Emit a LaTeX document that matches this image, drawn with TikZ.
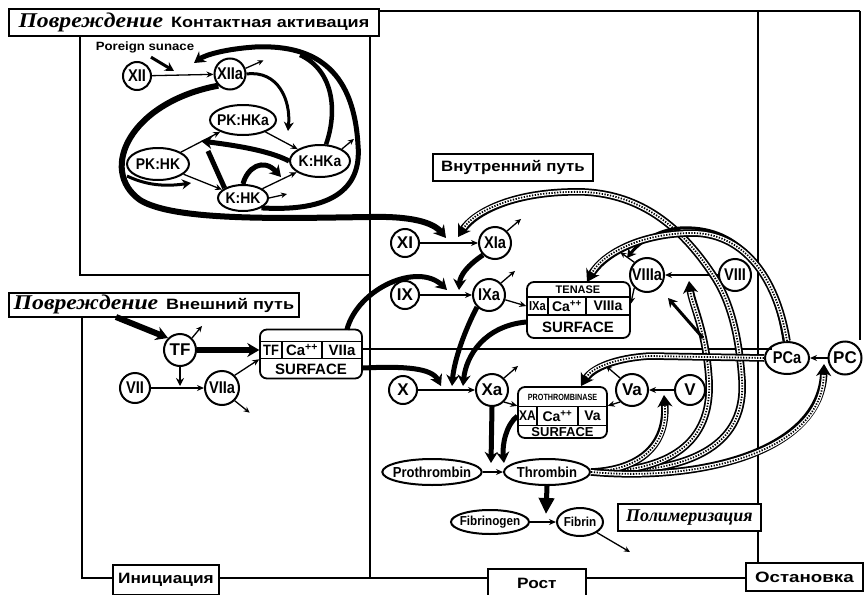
\documentclass[tikz,border=0pt]{standalone}
\usepackage{fontspec}
\usepackage{graphicx}
\setmainfont{Liberation Sans}
\newfontfamily\tmsfont{Liberation Serif}
\usetikzlibrary{arrows.meta,shapes.geometric,calc}
\pgfdeclarelayer{bg}
\pgfsetlayers{bg,main}
\newcommand{\bigitx}[1]{\scalebox{1.13}[1]{\tmsfont\bfseries\itshape\fontsize{21}{21}\selectfont #1}}
\newcommand{\wsans}[2]{\scalebox{#1}[1]{\bfseries\fontsize{15}{15}\selectfont #2}}
\newcommand{\pp}{\textsuperscript{++}}
\newcommand{\cnd}[1]{\scalebox{0.86}[1]{#1}}
\newcommand{\cne}[1]{\scalebox{0.9}[1]{#1}}
\begin{document}
\begin{tikzpicture}[x=1pt,y=-1pt,
  fr/.style={line width=2pt},
  tbox/.style={draw, line width=1.8pt, fill=white, inner sep=0pt, anchor=north west},
  nd/.style={circle, draw, line width=2pt, fill=white, inner sep=0pt, font=\bfseries\fontsize{17}{17}\selectfont},
  el/.style={ellipse, draw, line width=2pt, fill=white, inner sep=-4pt, font=\bfseries\fontsize{15.5}{15.5}\selectfont},
  cbox/.style={draw, line width=1.8pt, rounded corners=7pt, fill=white, inner sep=0pt},
  cell/.style={draw, line width=1.4pt, inner sep=0pt},
  thn/.style={line width=1.3pt, -{Stealth[length=7pt,width=6pt]}},
  dec/.style={line width=1.3pt, -{Stealth[length=6pt,width=5.5pt]}},
  med/.style={line width=3pt, -{Stealth[length=9pt,width=10pt]}},
  thk/.style={line width=5pt, -{Stealth[length=11pt,width=13pt]}},
  wedge/.style={line width=6pt, -{Stealth[length=12pt,width=14pt]}},
  band/.style={line width=7.5pt, -{Stealth[length=12pt,width=15pt]},
    postaction={draw=white, line width=4pt, -, shorten >=11pt},
    postaction={draw=black, line width=1.8pt, -, dash pattern=on 1.3pt off 1.5pt, shorten >=11pt}}
]
\useasboundingbox (0,0) rectangle (864,594);

% ---------- frame lines ----------
\begin{pgfonlayer}{bg}
\draw[fr] (378,11) -- (860,11);
\draw[fr] (860,11) -- (860,340);
\draw[fr] (758,11) -- (758,562);
\draw[fr] (370,11) -- (370,578);
\draw[fr] (80,35) -- (80,275) -- (370,275);
\draw[fr] (82,316) -- (82,578) -- (745,578);
\end{pgfonlayer}

% ---------- title boxes ----------
\node[tbox, minimum width=370pt, minimum height=27pt] (t1) at (8,8)
  {\bigitx{Повреждение}\hspace{8pt}\wsans{1.2}{Контактная активация}};
\node[tbox, minimum width=290pt, minimum height=24pt] (t2) at (8,292)
  {\bigitx{Повреждение}\hspace{8pt}\wsans{1.2}{Внешний путь}};
\node[tbox, minimum width=160pt, minimum height=27pt] (ip) at (432,153) {\wsans{1.12}{Внутренний путь}};
\node[tbox, minimum width=106pt, minimum height=30pt] (ini) at (112,564) {\wsans{1.15}{Инициация}};
\node[tbox, minimum width=98pt, minimum height=30pt] (rost) at (487,568) {\wsans{1.15}{Рост}};
\node[tbox, minimum width=117pt, minimum height=28pt] (ost) at (745,562) {\wsans{1.25}{Остановка}};
\node[tbox, minimum width=143pt, minimum height=27pt] (pol) at (617,503)
  {{\tmsfont\bfseries\itshape\fontsize{18}{18}\selectfont Полимеризация}};
\node (fs) at (145,47) {\scalebox{1.1}[1]{\bfseries\fontsize{12}{12}\selectfont Poreign sunace}};

% ---------- nodes ----------
\node[nd, minimum size=28pt] (xii) at (137,76) {\cnd{XII}};
\node[nd, minimum size=31pt] (xiia) at (230,74) {\cnd{XIIa}};
\node[el, minimum width=66pt, minimum height=30pt] (pkhka) at (243,120) {\cne{PK:HKa}};
\node[el, minimum width=62pt, minimum height=32pt] (pkhk) at (158,164) {\cne{PK:HK}};
\node[el, minimum width=60pt, minimum height=32pt] (khka) at (320,161) {\cne{K:HKa}};
\node[el, minimum width=50pt, minimum height=26pt] (khk) at (243,198) {\cne{K:HK}};

\node[nd, minimum size=28pt] (xi) at (405,243) {XI};
\node[nd, minimum size=32pt] (xia) at (495,243) {\cnd{XIa}};
\node[nd, minimum size=28pt] (ix) at (405,295) {IX};
\node[nd, minimum size=32pt] (ixa) at (489,295) {\cnd{IXa}};
\node[nd, minimum size=28pt] (x) at (403,390) {X};
\node[nd, minimum size=32pt] (xa) at (492,390) {Xa};
\node[nd, minimum size=32pt] (va) at (632,390) {Va};
\node[nd, minimum size=30pt] (v) at (690,390) {V};
\node[nd, minimum size=34pt] (viiia) at (647,275) {\cnd{VIIIa}};
\node[nd, minimum size=32pt] (viii) at (735,275) {\cnd{VIII}};
\node[nd, minimum size=32pt] (tf) at (180,350) {TF};
\node[nd, minimum size=30pt] (vii) at (135,388) {\cnd{VII}};
\node[nd, minimum size=34pt] (viia) at (222,388) {\cnd{VIIa}};
\node[el, minimum width=44pt, minimum height=32pt, font=\bfseries\fontsize{17}{17}\selectfont] (pca) at (787,358) {\cnd{PCa}};
\node[nd, minimum size=33pt] (pc) at (845,358) {PC};
\node[el, minimum width=96pt, minimum height=26pt, font=\bfseries\fontsize{14.5}{14.5}\selectfont] (prot) at (432,472) {\cne{Prothrombin}};
\node[el, minimum width=86pt, minimum height=26pt, font=\bfseries\fontsize{14.5}{14.5}\selectfont] (thr) at (547,472) {\cne{Thrombin}};
\node[el, minimum width=78pt, minimum height=24pt, font=\bfseries\fontsize{13}{13}\selectfont] (fbg) at (490,522) {\cne{Fibrinogen}};
\node[el, minimum width=46pt, minimum height=28pt, font=\bfseries\fontsize{13}{13}\selectfont] (fbn) at (580,522) {\cne{Fibrin}};

% ---------- TF complex ----------
\node[cbox, minimum width=102pt, minimum height=49pt] (tfc) at (311,354) {};
\node[cell, minimum width=22pt, minimum height=17pt, font=\bfseries\fontsize{15}{15}\selectfont] (tfcTF) at (271,350) {\cnd{TF}};
\node[cell, minimum width=40pt, minimum height=17pt, font=\bfseries\fontsize{15}{15}\selectfont] (tfcCa) at (302,350) {Ca\pp};
\node[cell, minimum width=40pt, minimum height=17pt, font=\bfseries\fontsize{15}{15}\selectfont] (tfcVIIa) at (342,350) {VIIa};
\node[font=\bfseries\fontsize{15}{15}\selectfont] (tfcS) at (311,369) {SURFACE};

% ---------- Tenase ----------
\node[cbox, minimum width=103pt, minimum height=56pt] (ten) at (578.5,310) {};
\node[font=\bfseries\fontsize{11}{11}\selectfont] (tenH) at (578,290) {TENASE};
\node[cell, minimum width=21pt, minimum height=18pt, font=\bfseries\fontsize{13}{13}\selectfont] (tenIXa) at (537.5,306) {\cnd{IXa}};
\node[cell, minimum width=38pt, minimum height=18pt, font=\bfseries\fontsize{14}{14}\selectfont] (tenCa) at (567,306) {Ca\pp};
\node[cell, minimum width=44pt, minimum height=18pt, font=\bfseries\fontsize{14}{14}\selectfont] (tenVIIIa) at (608,306) {VIIIa};
\node[font=\bfseries\fontsize{15}{15}\selectfont] (tenS) at (578,327) {SURFACE};

% ---------- Prothrombinase ----------
\node[cbox, minimum width=89pt, minimum height=51pt] (prt) at (562.5,412.5) {};
\node (prtH) at (562.5,397) {\scalebox{0.8}[1]{\bfseries\fontsize{9}{9}\selectfont PROTHROMBINASE}};
\node[cell, minimum width=19pt, minimum height=19pt, font=\bfseries\fontsize{14}{14}\selectfont] (prtXA) at (527.5,416) {\cnd{XA}};
\node[cell, minimum width=41pt, minimum height=19pt, font=\bfseries\fontsize{14}{14}\selectfont] (prtCa) at (557.5,416) {Ca\pp};
\node[cell, minimum width=29pt, minimum height=19pt, font=\bfseries\fontsize{14}{14}\selectfont] (prtVa) at (592.5,416) {Va};
\node[font=\bfseries\fontsize{13}{13}\selectfont] (prtS) at (562.5,432) {SURFACE};

% ---------- contact activation ----------
\coordinate (actXII) at (194,63);
\coordinate (actPK) at (201,141);
\coordinate (actK) at (281,177);
\coordinate (actPK2) at (288,131);
\coordinate (actKHK) at (191,183);
\coordinate (actXI) at (446,238);
\draw[thn] (xii) -- (xiia);
\draw[med] ($(fs.south)+(6,1)$) -- (174,71);
\draw[dec] (xiia.20) -- ++(18,-8);
\draw[med] (xiia.east) .. controls (278,70) and (291,100) .. (actPK2);
\draw[thn] (pkhka) -- (khka);
\draw[thn] (pkhk) -- (pkhka);
\draw[thn] (pkhk) -- (khk);
\draw[thn] (khk) -- (khka);
\draw[dec] (khk.east) -- ++(18,-4);
\draw[dec] (khka.north east) -- ++(12,-10);
\draw[thk] (khka.west) .. controls (268,150) and (232,145) .. (actPK);
\draw[line width=5pt] (khk.north west) -- (208,151);
\draw[thk] (khk.north) .. controls (247,168) and (263,157) .. (actK);
\draw[line width=6pt, -{Stealth[length=12pt,width=14pt]}] (xiia.south west) .. controls (130,102) and (98,170) .. (140,200)
  .. controls (175,222) and (290,218) .. (370,217) .. controls (410,216) and (433,222) .. (actXI);
\draw[med] (127,176) .. controls (150,187) and (170,186) .. (actKHK);
\draw[thk] (khk.south east) .. controls (330,212) and (362,190) .. (358,145)
  .. controls (354,75) and (320,44) .. (255,47) .. controls (225,49) and (205,55) .. (actXII);
\draw[line width=4.5pt] (khka.70) .. controls (338,110) and (333,70) .. (300,55);

% ---------- intrinsic ----------
\draw[thn] (xi) -- (xia);
\draw[dec] (xia.north east) -- ++(14,-12);
\draw[thk] (xia.south west) .. controls (468,265) and (460,275) .. (459,290);
\draw[thn] (ix) -- (ixa);
\draw[thk] ($(tfc.north east)+(-16,1)$) .. controls (358,288) and (418,262) .. (447,290);
\draw[dec] (ixa.north east) -- ++(14,-12);
\draw[thn] (ixa) -- (tenIXa.west);
\draw[thk] (ixa.south west) .. controls (465,330) and (454,360) .. (452,386);
\draw[thk] ($(ten.west)+(0,12)$) .. controls (485,326) and (466,355) .. (463,386);
\draw[thk] ($(tfc.east)+(0,14)$) .. controls (405,366) and (432,368) .. (441,386);
\draw[thn] (x) -- (xa);
\draw[dec] (xa.north east) -- ++(14,-12);
\draw[thn] (xa.south east) -- (prtXA.north west);
\draw[thk] (xa.south) -- (491,463);
\draw[thk] (prtXA.west) .. controls (506,425) and (502,445) .. (504,463);
\draw[thn] (prot) -- (thr);
\draw[thn] (v) -- (va);
\draw[thn] (va.south west) -- (prtVa.north east);
\draw[dec] (va.north west) -- ++(-14,-12);
\draw[thn] (viii) -- (viiia);
\draw[thn] (viiia.south west) -- ($(tenVIIIa.east)+(0,-2)$);
\draw[dec] (viiia.north west) -- ++(-14,-10);

% ---------- protein C line ----------
\coordinate (pcl) at (772,349);
\draw[line width=1.6pt] (tfc.east |- pcl) -- (pcl);
\draw[thn] (pc) -- (pca);

% ---------- thrombin / PCa bands ----------
\draw[band] (thr.east) .. controls (700,474) and (746,440) .. (742,380)
  .. controls (739,335) and (730,300) .. (713,275) .. controls (680,225) and (640,195) .. (585,192)
  .. controls (515,190) and (474,212) .. (458,237);
\draw[band] (thr.east) .. controls (680,472) and (712,435) .. (709,380)
  .. controls (706,330) and (692,305) .. (689,281);
\draw[med] (703,338) -- (668,298);
\draw[band] (thr.east) .. controls (640,470) and (668,445) .. (664,395);
\draw[band] (thr.east) .. controls (700,482) and (822,452) .. (824,364);
\draw[med] (pca.100) .. controls (772,262) and (735,225) .. (680,228) .. controls (655,230) and (637,245) .. (627,258);
\draw[band] (pca.north) .. controls (776,275) and (742,232) .. (690,233) .. controls (638,234) and (602,255) .. (587,282);
\draw[band] (pca.west) -- (650,356) .. controls (615,358) and (592,368) .. (581,386);

% ---------- fibrin ----------
\draw[line width=5pt, -{Triangle[length=16pt,width=15pt]}] (thr.south) -- (546,514);
\draw[thn] (fbg) -- (fbn);
\draw[dec] (fbn.south east) -- (630,552);

% ---------- extrinsic ----------
\coordinate (injTF) at (116,317);
\draw[wedge] (injTF) -- (tf.north west);
\draw[dec] (tf.north east) -- ++(10,-12);
\draw[wedge] (tf.east) -- (tfcTF.west);
\draw[thn] (vii) -- (viia);
\draw[line width=2pt, -{Stealth[length=8pt,width=8pt]}] (tf.south) -- (180,386);
\draw[thn] (viia.north east) -- (tfcTF.south west);
\draw[dec] (viia.south east) -- ++(15,12);
\end{tikzpicture}
\end{document}
